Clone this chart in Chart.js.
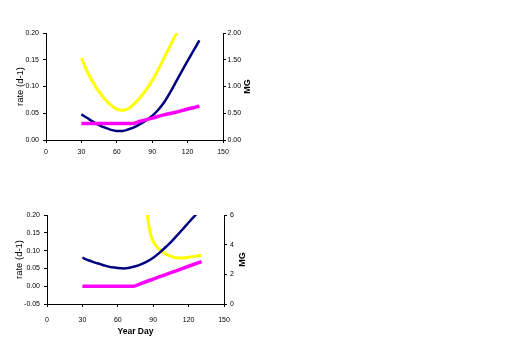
<!DOCTYPE html>
<html>
<head>
<meta charset="utf-8">
<script src="https://cdn.jsdelivr.net/npm/chart.js@4"></script>
<style>
  html,body{margin:0;padding:0;background:#fff;}
  #wrap{position:relative;width:527px;height:350px;overflow:hidden;background:#fff;}
  canvas{position:absolute;left:0;}
</style>
</head>
<body>
<div id="wrap">
  <canvas id="c1" width="260" height="175" style="top:0"></canvas>
  <canvas id="c2" width="260" height="175" style="top:175px"></canvas>
</div>
<script>
// ---------- data ----------
const xTickLabels = [0, 30, 60, 90, 120, 150];
const leftTitle = 'rate (d-1)';
const rightTitle = 'MG';
const xTitle = 'Year Day';

// top panel
const topYellowDays = [30,35,40,45,50,55,60,65,70,75,80,85,90,95,100,105,110,111];
const topYellowMG   = [1.53,1.28,1.07,0.90,0.76,0.65,0.575,0.555,0.59,0.68,0.80,0.94,1.11,1.31,1.53,1.75,1.97,2.00];
const topBlueDays   = [30,35,40,45,50,55,60,65,70,75,80,85,90,95,100,105,110,115,120,125,130];
const topBlueRate   = [0.048,0.041,0.034,0.028,0.023,0.019,0.017,0.017,0.020,0.024,0.030,0.037,0.045,0.056,0.070,0.088,0.108,0.128,0.148,0.167,0.186];
const topPinkDays   = [30,74,80,90,100,110,120,130];
const topPinkRate   = [0.031,0.031,0.035,0.041,0.047,0.052,0.058,0.063];

// bottom panel
const botYellowDays = [85,86,87,88,89,90,92,94,96,98,100,103,106,110,115,120,125,131];
const botYellowMG   = [6.05,5.45,5.0,4.65,4.42,4.23,3.97,3.78,3.63,3.50,3.40,3.27,3.19,3.12,3.10,3.15,3.21,3.27];
const botBlueDays   = [30,35,40,45,50,55,60,65,70,75,80,85,90,95,100,105,110,115,120,125,127];
const botBlueRate   = [0.080,0.073,0.067,0.062,0.057,0.053,0.051,0.050,0.052,0.056,0.062,0.070,0.080,0.093,0.108,0.124,0.142,0.160,0.179,0.197,0.204];
const botPinkDays   = [30,73,80,90,100,110,120,131];
const botPinkRate   = [0,0,0.008,0.020,0.032,0.044,0.056,0.069];

// ---------- helpers ----------
const FONT = '"Liberation Sans", Arial, sans-serif';
const pts = (xs, ys) => xs.map((x, i) => ({x: x, y: ys[i]}));

function line(data, color, width, axis) {
  return {
    data: data, yAxisID: axis, borderColor: color, backgroundColor: color,
    borderWidth: width, pointRadius: 0, fill: false,
    cubicInterpolationMode: 'monotone', borderCapStyle: 'butt'
  };
}

const rightTitlePlugin = {
  id: 'rightTitle',
  afterDraw(chart, args, opts) {
    const ctx = chart.ctx;
    ctx.save();
    ctx.fillStyle = '#000';
    ctx.font = 'bold 9px ' + FONT;
    ctx.textAlign = 'center';
    ctx.textBaseline = 'middle';
    ctx.translate(opts.x, (chart.chartArea.top + chart.chartArea.bottom) / 2 + (opts.dy || 0));
    ctx.rotate(-Math.PI / 2);
    ctx.fillText(opts.text, 0, 0);
    ctx.restore();
  }
};

function axisCommon(extra) {
  return Object.assign({
    border: {display: true, color: '#000', width: 1},
    grid: {display: true, drawOnChartArea: false, drawTicks: true, tickLength: 3, color: '#000'},
  }, extra);
}

function makeChart(id, cfg) {
  return new Chart(document.getElementById(id), {
    type: 'line',
    data: {datasets: cfg.datasets},
    plugins: [rightTitlePlugin],
    options: {
      responsive: false, animation: false,
      layout: {padding: {top: cfg.top, left: 0, right: 0, bottom: 0}},
      plugins: {legend: {display: false}, tooltip: {enabled: false},
                rightTitle: {text: rightTitle, x: cfg.mgX}},
      scales: {
        x: axisCommon({
          type: 'linear', min: 0, max: 150,
          afterBuildTicks: s => { s.ticks = xTickLabels.map(v => ({value: v})); },
          ticks: {color: '#000', font: {family: FONT, size: 7}, padding: cfg.xPad, maxRotation: 0, autoSkip: false},
          title: cfg.xTitle ? {display: true, text: xTitle, color: '#000',
                   font: {family: FONT, size: 8.5, weight: 'bold'}, padding: {top: 0, bottom: cfg.xTitlePad}} : {display: false},
          afterFit: s => { s.height = cfg.xH; }
        }),
        y: axisCommon({
          position: 'left', min: cfg.yMin, max: cfg.yMax,
          afterBuildTicks: s => { s.ticks = cfg.yTicks.map(v => ({value: v})); },
          ticks: {color: '#000', font: {family: FONT, size: 7}, padding: 4,
                  callback: v => v.toFixed(2)},
          title: {display: true, text: leftTitle, color: '#000',
                  font: {family: FONT, size: 9.5}, padding: {top: cfg.yTitlePad, bottom: 0}},
          afterFit: s => { s.width = cfg.left; }
        }),
        y1: axisCommon({
          position: 'right', min: cfg.y1Min, max: cfg.y1Max,
          afterBuildTicks: s => { s.ticks = cfg.y1Ticks.map(v => ({value: v})); },
          ticks: {color: '#000', font: {family: FONT, size: 7}, padding: cfg.y1Pad,
                  callback: v => cfg.y1Fmt(v)},
          title: {display: false},
          afterFit: s => { s.width = cfg.right; }
        })
      }
    }
  });
}

makeChart('c1', {
  datasets: [
    line(pts(topPinkDays, topPinkRate), '#FF00FF', 3.5, 'y'),
    line(pts(topBlueDays, topBlueRate), '#000080', 2.5, 'y'),
    line(pts(topYellowDays, topYellowMG), '#FFFF00', 3, 'y1')
  ],
  top: 33, left: 46, right: 37, xH: 35, xPad: 5, xTitle: false,
  yMin: 0, yMax: 0.2, yTicks: [0, 0.05, 0.10, 0.15, 0.20], yTitlePad: 15,
  y1Min: 0, y1Max: 2, y1Ticks: [0, 0.5, 1, 1.5, 2], y1Pad: 1.5, y1Fmt: v => v.toFixed(2),
  mgX: 248
});

makeChart('c2', {
  datasets: [
    line(pts(botPinkDays, botPinkRate), '#FF00FF', 3.5, 'y'),
    line(pts(botBlueDays, botBlueRate), '#000080', 2.5, 'y'),
    line(pts(botYellowDays, botYellowMG), '#FFFF00', 3, 'y1')
  ],
  top: 40, left: 47, right: 36, xH: 46, xPad: 9, xTitle: true, xTitlePad: 13,
  yMin: -0.05, yMax: 0.2, yTicks: [-0.05, 0, 0.05, 0.10, 0.15, 0.20], yTitlePad: 14,
  y1Min: 0, y1Max: 6, y1Ticks: [0, 2, 4, 6], y1Pad: 3, y1Fmt: v => String(v),
  mgX: 243
});
</script>
</body>
</html>
